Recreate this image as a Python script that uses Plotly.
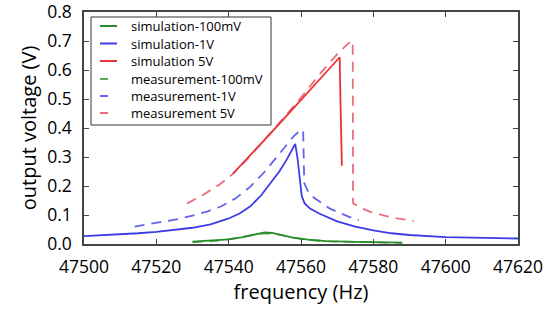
import plotly.graph_objects as go

# ---- data ----
sim1v_f = [47500, 47505, 47510, 47515, 47520, 47525, 47530, 47535, 47540, 47543, 47546, 47549,
           47552, 47554, 47556, 47558, 47558.4, 47559, 47559.6, 47560.2, 47561, 47562.5, 47565,
           47570, 47575, 47580, 47585, 47590, 47600, 47610, 47620]
sim1v_v = [0.027, 0.030, 0.033, 0.037, 0.042, 0.048, 0.056, 0.068, 0.088, 0.105, 0.130, 0.168,
           0.215, 0.250, 0.290, 0.335, 0.345, 0.300, 0.220, 0.165, 0.140, 0.122, 0.105,
           0.078, 0.060, 0.047, 0.037, 0.031, 0.024, 0.021, 0.019]

meas1v_f = [47514, 47518, 47522, 47526, 47530, 47534, 47538, 47542, 47546, 47550, 47553, 47556,
            47558, 47560.2, 47560.6, 47560.9, 47562, 47563.5, 47565.3, 47568, 47570, 47573, 47576]
meas1v_v = [0.060, 0.068, 0.076, 0.086, 0.098, 0.112, 0.130, 0.158, 0.198, 0.250, 0.295, 0.340,
            0.372, 0.395, 0.390, 0.210, 0.180, 0.160, 0.145, 0.122, 0.111, 0.095, 0.082]

sim5v_f = [47541.2, 47545, 47550, 47555, 47560, 47565, 47570.7, 47570.9, 47571.1, 47571.3]
sim5v_v = [0.243, 0.292, 0.360, 0.428, 0.497, 0.566, 0.644, 0.500, 0.290, 0.270]

meas5v_f = [47528.5, 47533, 47537.8, 47541, 47545, 47550, 47555, 47560, 47565.6, 47570, 47573.8,
            47574.3, 47574.4, 47577, 47579.2, 47583, 47586.6, 47591.2]
meas5v_v = [0.140, 0.170, 0.208, 0.240, 0.290, 0.360, 0.432, 0.505, 0.592, 0.655, 0.700,
            0.700, 0.140, 0.122, 0.111, 0.098, 0.088, 0.080]

sim100_f = [47530, 47535, 47540, 47544, 47547, 47550, 47552, 47555, 47558, 47562, 47567, 47575, 47588]
sim100_v = [0.008, 0.011, 0.016, 0.024, 0.033, 0.040, 0.038, 0.030, 0.021, 0.015, 0.010, 0.007, 0.005]

meas100_f = [47530, 47534, 47538, 47542, 47546, 47550, 47554, 47558, 47562, 47568, 47578, 47588]
meas100_v = [0.006, 0.010, 0.012, 0.020, 0.030, 0.037, 0.032, 0.022, 0.014, 0.009, 0.006, 0.004]

series_names = ["simulation-100mV", "simulation-1V", "simulation 5V",
                "measurement-100mV", "measurement-1V", "measurement 5V"]

x_ticks = [47500, 47520, 47540, 47560, 47580, 47600, 47620]
y_ticks = [0.0, 0.1, 0.2, 0.3, 0.4, 0.5, 0.6, 0.7, 0.8]

FONT = "Open Sans"
GREEN = "rgb(40,140,40)"
BLUE = "rgb(60,60,230)"
RED = "rgb(235,50,50)"
GREEN_D = "rgba(40,140,40,0.75)"
BLUE_D = "rgba(60,60,230,0.8)"
RED_D = "rgba(225,60,80,0.75)"
DASH = "10px,7px"

styles = [
    dict(color=GREEN, width=1.8),
    dict(color=BLUE, width=1.8),
    dict(color=RED, width=1.8),
    dict(color=GREEN_D, width=1.8, dash=DASH),
    dict(color=BLUE_D, width=1.8, dash=DASH),
    dict(color=RED_D, width=1.8, dash=DASH),
]
data = [(sim100_f, sim100_v), (sim1v_f, sim1v_v), (sim5v_f, sim5v_v),
        (meas100_f, meas100_v), (meas1v_f, meas1v_v), (meas5v_f, meas5v_v)]

fig = go.Figure()
for (xs, ys), nm, st in zip(data, series_names, styles):
    fig.add_trace(go.Scatter(x=xs, y=ys, mode="lines", name=nm, line=st, showlegend=False))

W, H = 555, 309
# plot area in window pixels: x 84..518, y 12..244
L, T = 84, 12
R, B = W - 518, H - 244
PW, PH = W - L - R, H - T - B


def px(xw):
    return (xw - L) / PW


def py(yw):
    return (H - B - yw) / PH


# custom compact legend (matplotlib-like)
shapes = [dict(type="rect", xref="paper", yref="paper", x0=px(91), x1=px(271), y0=py(125), y1=py(17),
               line=dict(color="#333", width=1), fillcolor="white", layer="above")]
annotations = []
row_y = [26, 43.5, 61, 79, 96, 113]
for i, (nm, st) in enumerate(zip(series_names, styles)):
    yy = py(row_y[i])
    x1 = 117 if "dash" not in st else 108
    shapes.append(dict(type="line", xref="paper", yref="paper", x0=px(100), x1=px(x1), y0=yy, y1=yy,
                       line=dict(color=st["color"], width=2), layer="above"))
    annotations.append(dict(xref="paper", yref="paper", x=px(129), y=yy, text=nm, showarrow=False,
                            xanchor="left", yanchor="middle",
                            font=dict(size=13, family=FONT, color="black")))

axis_common = dict(showgrid=False, zeroline=False, ticks="inside", ticklen=5, tickwidth=1,
                   tickcolor="#444", showline=True, linecolor="#444", linewidth=1.5,
                   mirror="ticks", automargin=False, ticklabeloverflow="allow",
                   tickfont=dict(size=17.5, color="black", family=FONT))

fig.update_layout(
    width=W, height=H,
    margin=dict(l=L, r=R, t=T, b=B),
    paper_bgcolor="white", plot_bgcolor="white",
    font=dict(family=FONT, color="black"),
    xaxis=dict(range=[47500, 47620], tickvals=x_ticks, ticktext=[str(v) for v in x_ticks],
               ticklabelstandoff=6,
               title=dict(text="frequency (Hz)", font=dict(size=20), standoff=6), **axis_common),
    yaxis=dict(range=[0, 0.8], tickvals=y_ticks, ticktext=[f"{v:.1f}" for v in y_ticks],
               ticklabelstandoff=7,
               title=dict(text="output voltage (V)", font=dict(size=20), standoff=5), **axis_common),
    shapes=shapes, annotations=annotations,
    showlegend=False,
)

fig.write_html("out.html", config={"displayModeBar": False},
               post_script="document.body.style.margin='0';")
